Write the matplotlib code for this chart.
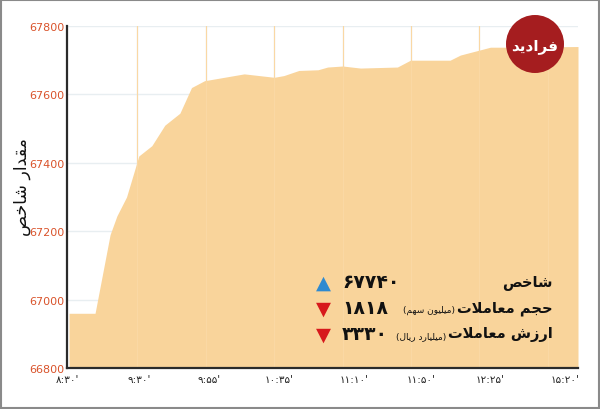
import matplotlib
matplotlib.use("Agg")
import matplotlib.pyplot as plt
from matplotlib.patches import Ellipse, Rectangle

# index profile, x in tick-slot units (one slot per time label)
x_pos = [0.0, 0.38, 0.60, 0.70, 0.84, 1.02, 1.21, 1.40, 1.62, 1.79, 1.98, 2.56, 3.00, 3.14,
         3.36, 3.64, 3.78, 4.00, 4.26, 4.80, 4.99, 5.57, 5.72, 6.16, 6.40, 7.44]
index_vals = [66960, 66960, 67190, 67245, 67300, 67420, 67450, 67510, 67545, 67620, 67640,
              67660, 67650, 67655, 67670, 67672, 67680, 67683, 67677, 67680, 67700, 67700,
              67715, 67738, 67738, 67740]
time_labels = ["۸:۳۰'", "۹:۳۰'", "۹:۵۵'", "۱۰:۳۵'", "۱۱:۱۰'", "۱۱:۵۰'", "۱۲:۲۵'", "۱۵:۲۰'"]
time_tick_pos = [-0.03, 1.02, 2.05, 3.07, 4.16, 5.14, 6.16, 7.25]
y_ticks = [66800, 67000, 67200, 67400, 67600, 67800]

summary_names = ["شاخص", "حجم معاملات", "ارزش معاملات"]
summary_units = ["", "(میلیون سهم)", "(میلیارد ریال)"]
summary_values = ["۶۷۷۴۰", "۱۸۱۸", "۳۳۳۰"]
summary_up = [True, False, False]

# minimal arabic shaping (matplotlib has no complex text layout)
FORMS = {
    'ا': ('\ufe8d', '\ufe8e', None, None),
    'ت': ('\ufe95', '\ufe96', '\ufe97', '\ufe98'),
    'ج': ('\ufe9d', '\ufe9e', '\ufe9f', '\ufea0'),
    'ح': ('\ufea1', '\ufea2', '\ufea3', '\ufea4'),
    'خ': ('\ufea5', '\ufea6', '\ufea7', '\ufea8'),
    'د': ('\ufea9', '\ufeaa', None, None),
    'ر': ('\ufead', '\ufeae', None, None),
    'ز': ('\ufeaf', '\ufeb0', None, None),
    'س': ('\ufeb1', '\ufeb2', '\ufeb3', '\ufeb4'),
    'ش': ('\ufeb5', '\ufeb6', '\ufeb7', '\ufeb8'),
    'ص': ('\ufeb9', '\ufeba', '\ufebb', '\ufebc'),
    'ع': ('\ufec9', '\ufeca', '\ufecb', '\ufecc'),
    'ف': ('\ufed1', '\ufed2', '\ufed3', '\ufed4'),
    'ق': ('\ufed5', '\ufed6', '\ufed7', '\ufed8'),
    'ل': ('\ufedd', '\ufede', '\ufedf', '\ufee0'),
    'م': ('\ufee1', '\ufee2', '\ufee3', '\ufee4'),
    'ن': ('\ufee5', '\ufee6', '\ufee7', '\ufee8'),
    'ه': ('\ufee9', '\ufeea', '\ufeeb', '\ufeec'),
    'و': ('\ufeed', '\ufeee', None, None),
    'ی': ('\ufbfc', '\ufbfd', '\ufef3', '\ufef4'),
}


def shape(text):
    out = []
    i = 0
    n = len(text)
    while i < n:
        c = text[i]
        if c not in FORMS:
            out.append(c)
            i += 1
            continue
        prev = text[i - 1] if i > 0 else ''
        joins_prev = prev in FORMS and FORMS[prev][2] is not None
        if c == 'ل' and i + 1 < n and text[i + 1] == 'ا':
            out.append('\ufefc' if joins_prev else '\ufefb')
            i += 2
            continue
        nxt = text[i + 1] if i + 1 < n else ''
        joins_next = FORMS[c][2] is not None and nxt in FORMS
        iso, fin, ini, med = FORMS[c]
        if joins_prev and joins_next:
            out.append(med)
        elif joins_prev:
            out.append(fin)
        elif joins_next:
            out.append(ini)
        else:
            out.append(iso)
        i += 1
    vis = ''.join(reversed(out))
    return vis.translate(str.maketrans('()', ')('))


W, H = 600, 410
fig = plt.figure(figsize=(6, 4.1), dpi=100)
ax = fig.add_axes([67 / W, 1 - 369 / H, (578 - 67) / W, (369 - 27) / H])

fill_color = "#F9D49B"
for g in range(1, 8):
    ax.axvline(g, color="#E8EEF1", lw=1, zorder=0)
for yt in y_ticks[1:]:
    ax.axhline(yt, color="#E8EEF1", lw=1, zorder=0)
ax.fill_between(x_pos, index_vals, 66800, color=fill_color, lw=0, zorder=1)
for g in range(1, 8):
    ax.axvline(g, color="#FAD8A4", lw=0.8, zorder=2)

ax.set_xlim(0, 7.44)
ax.set_ylim(66800, 67800)
ax.set_yticks(y_ticks)
ax.set_yticklabels([str(v) for v in y_ticks], color="#D9532B", fontsize=8,
                   family=["Liberation Sans Narrow", "DejaVu Sans"])
ax.set_xticks(time_tick_pos)
ax.set_xticklabels(time_labels, fontsize=7.5, color="#222222", family="DejaVu Sans")
ax.tick_params(axis="both", length=0, pad=4)
ax.tick_params(axis="y", pad=2)
for s in ["top", "right"]:
    ax.spines[s].set_visible(False)
for s in ["left", "bottom"]:
    ax.spines[s].set_color("#2B2B2B")
    ax.spines[s].set_linewidth(1.6)

fig.text(22 / W, 1 - 187 / H, shape("مقدار شاخص"), rotation=90, ha="center", va="center",
         fontsize=12.5, color="#111111", family="DejaVu Sans")

fig.canvas.draw()
renderer = fig.canvas.get_renderer()
rows_y = [283, 309, 335]
for k in range(3):
    yy = 1 - rows_y[k] / H
    name = fig.text(553 / W, yy, shape(summary_names[k]), ha="right", va="center", fontsize=10.5,
                    fontweight="bold", color="#111111", family="DejaVu Sans")
    if summary_units[k]:
        left_px = name.get_window_extent(renderer).x0
        fig.text((left_px - 2) / W, yy - 0.004, shape(summary_units[k]), ha="right", va="center",
                 fontsize=6.5, color="#111111", family="DejaVu Sans")
    fig.text(342 / W, yy, summary_values[k], ha="left", va="center", fontsize=13.5,
             fontweight="bold", color="#111111", family="DejaVu Sans")
    fig.text(323 / W, yy, "▲" if summary_up[k] else "▼", ha="center", va="center",
             fontsize=14, color="#2F8AD0" if summary_up[k] else "#D7191C", family="DejaVu Sans")

# logo
fig.add_artist(Ellipse((535 / W, 1 - 45 / H), 58 / W, 58 / H, transform=fig.transFigure,
                       facecolor="#A51D1F", edgecolor="none", zorder=5))
fig.text(535 / W, 1 - 46 / H, shape("فرادید"), ha="center", va="center", fontsize=11,
         fontweight="bold", color="white", family="DejaVu Sans", zorder=6)

fig.add_artist(Rectangle((0.002, 0.003), 0.996, 0.994, transform=fig.transFigure,
                         fill=False, edgecolor="#8A8A8A", lw=1.5))

fig.savefig("out.png", dpi=100)
